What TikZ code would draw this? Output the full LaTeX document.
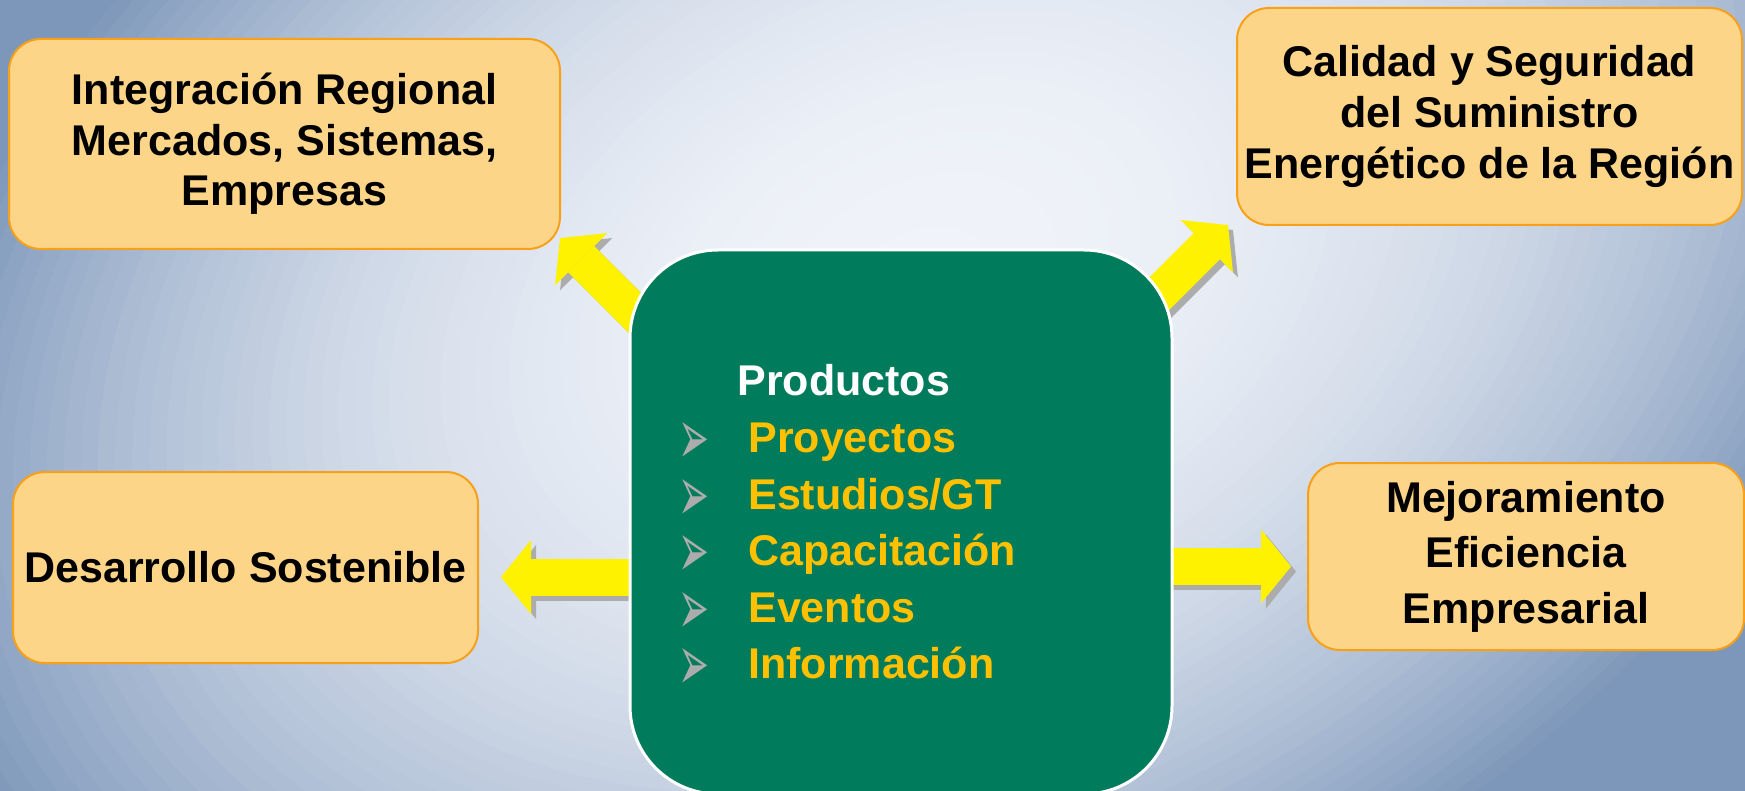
\documentclass[tikz,border=0pt]{standalone}
\usepackage{fontspec}
\setmainfont{Liberation Sans}
\newfontfamily\dingfont{DejaVu Sans}
\usetikzlibrary{arrows.meta}
\usetikzlibrary{positioning}
\definecolor{boxfill}{RGB}{253,213,136}
\definecolor{boxline}{RGB}{247,160,24}
\definecolor{prodgreen}{RGB}{0,123,92}
\definecolor{itemgold}{RGB}{255,192,0}
\definecolor{bulgray}{RGB}{172,172,172}
\definecolor{shadowgray}{RGB}{172,172,172}
\definecolor{bgLight}{RGB}{240,243,249}
\definecolor{bgDark}{RGB}{125,151,186}
\pgfdeclarelayer{back}
\pgfsetlayers{back,main}
\newcommand{\bul}{\makebox[35pt][l]{\raisebox{-6pt}[14pt][0pt]{\resizebox{15.5pt}{21pt}{\dingfont\textcolor{bulgray}{➢}}}}}
\tikzset{
    goalbox/.style={draw=boxline, line width=1pt, fill=boxfill, rounded corners=16pt,
        align=center, inner sep=0pt, font=\fontsize{21.5}{25.3}\selectfont\bfseries},
    yarrow/.style={draw=yellow, line width=18.5pt, -{Triangle[length=15pt,width=37pt,line width=0pt]}},
    yshadow/.style={yarrow, draw=shadowgray, transform canvas={shift={(2.5pt,-2.5pt)}}},
    itemtext/.style={anchor=base west, inner sep=0pt, text=itemgold, font=\fontsize{21.5}{27.5}\selectfont\bfseries}
}

\begin{document}
\begin{tikzpicture}[x=0.5pt, y=-0.5pt]
  \useasboundingbox (0,0) rectangle (1745,791);
  % the four goals
  \node[goalbox, minimum width=275.5pt, minimum height=105pt] (integ) at (284.5,144) {Integración Regional\\Mercados, Sistemas,\\Empresas};
  \node[goalbox, minimum width=252.5pt, minimum height=108.5pt] (calid) at (1489.5,116.5) {Calidad y Seguridad\\del Suministro\\Energético de la Región};
  \node[goalbox, minimum width=232.5pt, minimum height=95.5pt] (desar) at (245.5,567.5) {Desarrollo Sostenible};
  \node[goalbox, minimum width=218pt, minimum height=93.5pt, font=\fontsize{21.5}{27.8}\selectfont\bfseries] (mejora) at (1526,556.5) {Mejoramiento\\Eficiencia\\Empresarial};
  % the products in the middle
  \node[draw=white, line width=1.5pt, fill=prodgreen, rounded corners=44pt, minimum width=271pt, minimum height=272pt] (prod) at (901,522) {};
  \node[itemtext, text=white] (prodtitle) at (737,395) {Productos};
  \node[itemtext] (proy) at (678,452) {\bul Proyectos};
  \node[itemtext] (estu) at (678,509) {\bul Estudios/GT};
  \node[itemtext] (capa) at (678,565) {\bul Capacitación};
  \node[itemtext] (even) at (678,622) {\bul Eventos};
  \node[itemtext] (info) at (678,678) {\bul Información};
  % background and arrows behind everything
  \begin{pgfonlayer}{back}
    \fill[bgDark] (0,0) rectangle (1745,791);
    \foreach \k in {0,...,59} {
      \pgfmathsetmacro\s{0.9*(1-\k/60)}
      \pgfmathsetmacro\p{100*(1-(1-\k/60)^2.2)}
      \fill[bgLight!\p!bgDark, rotate around={25:(920,280)}] (920,280) ellipse ({1200*\s} and {820*\s});
    }
    \coordinate (tlTip) at ([shift={(-1,-12)}]integ.south east);
    \coordinate (trTip) at ([shift={(-8,-1)}]calid.south west);
    \coordinate (lTip) at ([shift={(22,9.5)}]desar.east);
    \coordinate (rTip) at ([shift={(-16,10)}]mejora.west);
    \draw[yshadow] ([shift={(14,72)}]prod.north west) -- (tlTip);
    \draw[yarrow] ([shift={(14,72)}]prod.north west) -- (tlTip);
    \draw[yshadow] ([shift={(-23,54)}]prod.north east) -- (trTip);
    \draw[yarrow] ([shift={(-23,54)}]prod.north east) -- (trTip);
    \draw[yshadow] (prod |- lTip) -- (lTip);
    \draw[yarrow] (prod |- lTip) -- (lTip);
    \draw[yshadow] (prod |- rTip) -- (rTip);
    \draw[yarrow] (prod |- rTip) -- (rTip);
  \end{pgfonlayer}
\end{tikzpicture}
\end{document}
